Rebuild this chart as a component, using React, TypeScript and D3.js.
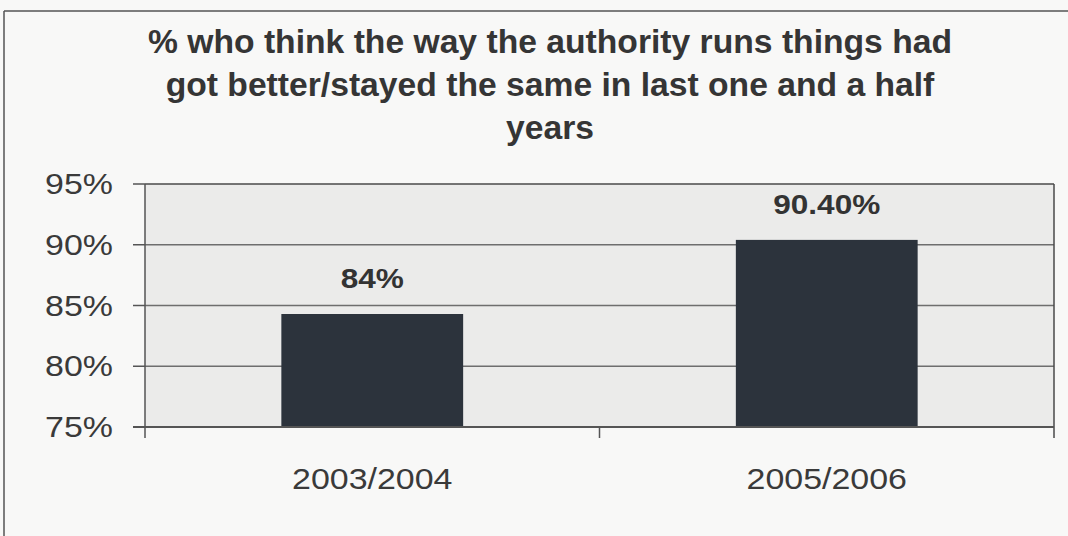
import React from "react";
import * as d3 from "d3";

const categories = ["2003/2004", "2005/2006"];
const values = [84.3, 90.4];
const valueLabels = ["84%", "90.40%"];
const yTicks = [75, 80, 85, 90, 95];
const yTickLabels = ["75%", "80%", "85%", "90%", "95%"];
const titleLines = [
  "% who think the way the authority runs things had",
  "got better/stayed the same in last one and a half",
  "years",
];

const W = 1068;
const H = 536;
const PL = 145, PR = 1054, PT = 184, PB = 427;
const SX = 1.17;
const FONT = "'Liberation Sans', Arial, sans-serif";

export default function App() {
  const x = d3.scaleBand<string>().domain(categories).range([PL, PR]).paddingInner(0.6).paddingOuter(0.3);
  const xCat = d3.scaleBand<string>().domain(categories).range([PL, PR]).padding(0);
  const y = d3.scaleLinear().domain([75, 95]).range([PB, PT]);

  const st = (tx: number, ty: number, sx: number = SX) => `translate(${tx},${ty}) scale(${sx},1)`;

  return (
    <div style={{ position: "fixed", left: 0, top: 0, width: W, height: H }}>
      <svg width={W} height={H} style={{ display: "block" }}>
        <rect x={0} y={0} width={W} height={H} fill="#f8f8f7" />
        {/* outer frame */}
        <line x1={4} x2={4} y1={11} y2={H} stroke="#555" strokeWidth={1.5} />
        <line x1={4} x2={W} y1={11} y2={11} stroke="#555" strokeWidth={1.5} />
        {/* title */}
        {titleLines.map((t, i) => (
          <text key={i} transform={st(550, 53 + i * 43, 1.02)} textAnchor="middle" fontFamily={FONT}
            fontWeight="bold" fontSize={33} fill="#353535">{t}</text>
        ))}
        {/* plot area */}
        <rect x={PL} y={PT} width={PR - PL} height={PB - PT} fill="#ebebea" />
        {yTicks.slice(1, -1).map((v) => (
          <line key={v} x1={PL} x2={PR} y1={y(v)} y2={y(v)} stroke="#6e6e6e" strokeWidth={1.5} />
        ))}
        {/* bars */}
        {categories.map((c, i) => (
          <rect key={c} x={x(c)} y={y(values[i])} width={x.bandwidth()} height={PB - y(values[i])} fill="#2c333c" />
        ))}
        {/* plot border */}
        <line x1={PL} x2={PR} y1={PT} y2={PT} stroke="#4a4a4a" strokeWidth={1.5} />
        <line x1={PR} x2={PR} y1={PT} y2={PB + 11} stroke="#4a4a4a" strokeWidth={1.5} />
        {/* axes */}
        <line x1={PL} x2={PL} y1={PT} y2={PB + 11} stroke="#555" strokeWidth={1.5} />
        <line x1={PL - 12} x2={PR} y1={PB} y2={PB} stroke="#555" strokeWidth={2} />
        {yTicks.map((v) => (
          <line key={v} x1={PL - 12} x2={PL} y1={y(v)} y2={y(v)} stroke="#555" strokeWidth={1.5} />
        ))}
        {[PL + xCat.step()].map((xx, i) => (
          <line key={i} x1={xx} x2={xx} y1={PB} y2={PB + 11} stroke="#555" strokeWidth={1.5} />
        ))}
        {/* y labels */}
        {yTicks.map((v, i) => (
          <text key={v} transform={st(113, y(v) + 10)} textAnchor="end" fontFamily={FONT}
            fontSize={29} fill="#3a3a3a">{yTickLabels[i]}</text>
        ))}
        {/* category labels */}
        {categories.map((c) => (
          <text key={c} transform={st((xCat(c) as number) + xCat.bandwidth() / 2, 489)} textAnchor="middle"
            fontFamily={FONT} fontSize={29} fill="#3a3a3a">{c}</text>
        ))}
        {/* value labels */}
        {categories.map((c, i) => (
          <text key={c} transform={st((x(c) as number) + x.bandwidth() / 2, y(values[i]) - 26)} textAnchor="middle"
            fontFamily={FONT} fontWeight="bold" fontSize={27} fill="#333">{valueLabels[i]}</text>
        ))}
      </svg>
    </div>
  );
}
